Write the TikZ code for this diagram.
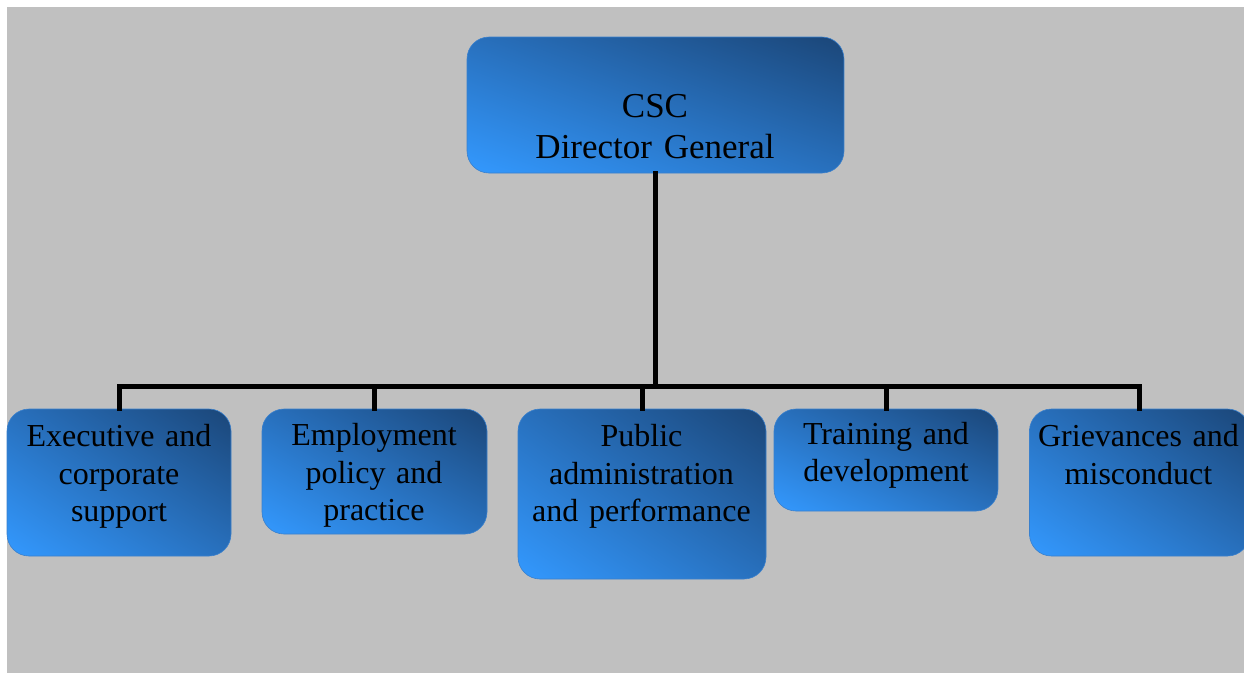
\documentclass[tikz,border=0pt]{standalone}
\usepackage{fontspec}
\setmainfont{Liberation Serif}
\usetikzlibrary{shadings}
\definecolor{bgray}{HTML}{C0C0C0}
\definecolor{bdark}{HTML}{1B4678}
\definecolor{bbright}{HTML}{3399FF}
\definecolor{bmid}{HTML}{2870BD}
\definecolor{bedge}{HTML}{3A80CC}
\tikzset{
  orgbox/.style={rectangle, rounded corners=22pt, inner sep=0pt,
    shading=bilinear interpolation,
    upper right=bdark, lower left=bbright, upper left=bmid, lower right=bmid,
    draw=bedge, line width=0.6pt},
  toptext/.style={anchor=base, inner sep=0pt, text width=300pt, align=center,
    font=\fontsize{35}{41}\selectfont},
  orgtext/.style={anchor=base, inner sep=0pt, text width=260pt, align=center,
    font=\fontsize{32}{37.5}\selectfont},
  conn/.style={line width=5pt, black, line join=miter, line cap=rect}
}
\begin{document}
\begin{tikzpicture}[x=1pt,y=-1pt]
\useasboundingbox (0,0) rectangle (1244,673);
\fill[white] (0,0) rectangle (1244,673);
\fill[bgray] (7,7) rectangle (1244,673);

\coordinate (bus) at (0,386.5);

% boxes
\node[orgbox, minimum width=377pt, minimum height=136pt] (top) at (655.5,105) {};
\node[orgbox, minimum width=224pt, minimum height=147pt] (b1) at (119,482.5) {};
\node[orgbox, minimum width=225pt, minimum height=125pt] (b2) at (374.5,471.5) {};
\node[orgbox, minimum width=248pt, minimum height=170pt] (b3) at (642,494) {};
\node[orgbox, minimum width=224pt, minimum height=102pt] (b4) at (886,460) {};
\node[orgbox, minimum width=220pt, minimum height=147pt] (b5) at (1139.5,482.5) {};

% connectors
\draw[conn] (top.south) -- (top.south |- bus);
\draw[conn] (b1.north) -- (b1.north |- bus) -- (b5.north |- bus) -- (b5.north);
\draw[conn] (b2.north |- bus) -- (b2.north);
\draw[conn] (b3.north |- bus) -- (b3.north);
\draw[conn] (b4.north |- bus) -- (b4.north);

% texts
\node[toptext] (ttop) at (655,117) {CSC\\Director General};
\node[orgtext] (t1) at (119,446.5) {Executive and\\corporate\\support};
\node[orgtext] (t2) at (374,445.5) {Employment\\policy and\\practice};
\node[orgtext] (t3) at (641.5,446.5) {Public\\administration\\and performance};
\node[orgtext] (t4) at (886,444) {Training and\\development};
\node[orgtext] (t5) at (1138.5,446.5) {Grievances and\\misconduct};
\end{tikzpicture}
\end{document}
